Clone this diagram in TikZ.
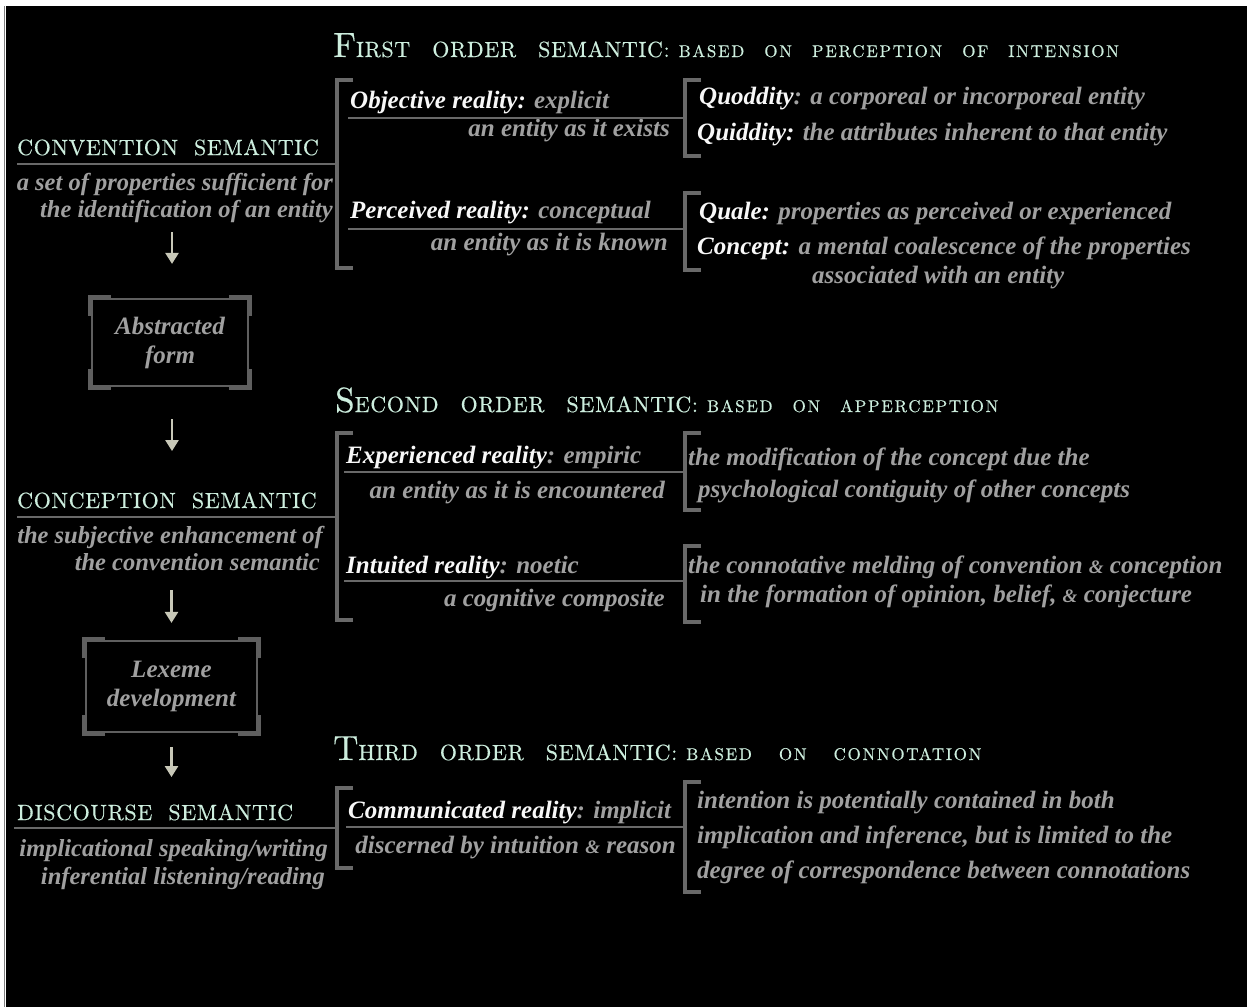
\documentclass[tikz,border=0pt]{standalone}
\usepackage{fontspec}
\setmainfont{Liberation Serif}
\newfontfamily\capsfont{lmroman10-regular.otf}[LetterSpace=3,FakeBold=0.4]
\newfontfamily\smcapsfont{lmroman10-regular.otf}[LetterSpace=10,FakeBold=0.4]
\usetikzlibrary{arrows.meta,positioning,calc}
\definecolor{mintcap}{RGB}{205,238,222}
\definecolor{greytext}{RGB}{160,160,160}
\definecolor{whitetext}{RGB}{248,248,248}
\definecolor{rulegrey}{RGB}{105,105,105}
\definecolor{boxgrey}{RGB}{95,95,95}
\definecolor{arrowtan}{RGB}{200,200,184}
\newcommand{\wgap}{\hspace{16pt}}
\newcommand{\hgap}{\hspace{22pt}}
\newcommand{\sgap}{\hspace{20pt}}
\newcommand{\hl}[1]{\textcolor{whitetext}{#1}}
\newcommand{\amp}{{\fontsize{19}{19}\selectfont\&}}
\newcommand{\ordertitle}[3]{%
  {\capsfont\fontsize{35}{35}\selectfont #1}%
  {\capsfont\fontsize{22}{22}\selectfont #2}\hspace{9pt}%
  {\smcapsfont\fontsize{17}{17}\selectfont #3}}
\tikzset{
  ordertitle/.style={anchor=base west,inner sep=0pt,text=mintcap},
  semlabel/.style={anchor=base west,inner sep=0pt,text=mintcap,
    font=\capsfont\fontsize{22}{22}\selectfont},
  desc/.style={inner sep=0pt,text=greytext,
    font=\fontsize{25}{28}\selectfont\bfseries\itshape},
  leftdesc/.style={desc,anchor=base east,
    font=\fontsize{24.5}{28}\selectfont\bfseries\itshape},
  rule/.style={draw=rulegrey,line width=1.6pt},
  brk/.style={draw=rulegrey,line width=4pt},
  flowarrow/.style={draw=arrowtan,line width=2.5pt,
    -{Triangle[width=13pt,length=11pt,fill=arrowtan]}},
  stagebox/.style={draw=boxgrey,line width=2.2pt,inner sep=0pt,align=center,
    text=greytext,font=\fontsize{25}{29}\selectfont\bfseries\itshape},
  boxcorner/.style={draw=boxgrey,line width=5pt},
}
\begin{document}
\begin{tikzpicture}[x=1pt,y=-1pt]
  \useasboundingbox (0,0) rectangle (1247,1007);
  \fill[white] (0,0) rectangle (1247,1007);
  \fill[black] (6,6) rectangle (1247,1007);
  \draw[gray,line width=1pt] (4.5,6) -- (4.5,1007);
  \coordinate (spineL) at (337,0);
  \coordinate (spineR) at (685,0);

  % order headings
  \node[ordertitle] (hdfirst) at (333,57)
    {\ordertitle{F}{IRST\hgap ORDER\hgap SEMANTIC:}{BASED\sgap ON\sgap PERCEPTION\sgap OF\sgap INTENSION}};
  \node[ordertitle] (hdsecond) at (335,412)
    {\ordertitle{S}{ECOND\hgap ORDER\hgap SEMANTIC:}{BASED\sgap ON\sgap APPERCEPTION}};
  \node[ordertitle] (hdthird) at (333,760)
    {\ordertitle{T}{HIRD\hgap ORDER\hgap SEMANTIC:}{BASED\hspace{27pt}ON\hspace{27pt}CONNOTATION}};

  % left column
  \node[semlabel] (convlbl) at (17,155) {CONVENTION\wgap SEMANTIC};
  \node[leftdesc] (convd1) at (333,190) {a set of properties sufficient for};
  \node[leftdesc] (convd2) at (333,217) {the identification of an entity};
  \node[stagebox,minimum width=156pt,minimum height=87pt] (absbox) at (170,342.5) {Abstracted\\form};
  \node[semlabel] (concplbl) at (17,508) {CONCEPTION\wgap SEMANTIC};
  \node[leftdesc] (concpd1) at (323,543) {the subjective enhancement of};
  \node[leftdesc] (concpd2) at (320,570) {the convention semantic};
  \node[stagebox,minimum width=171pt,minimum height=91pt] (lexbox) at (171.5,686.5) {Lexeme\\development};
  \node[semlabel] (disclbl) at (17,820) {DISCOURSE\wgap SEMANTIC};
  \node[leftdesc] (discd1) at (328,856) {implicational speaking/writing};
  \node[leftdesc] (discd2) at (325,884) {inferential listening/reading};

  \foreach \bx in {absbox,lexbox}
    \foreach \crn/\sx/\sy in {north west/1/1,north east/-1/1,south west/1/-1,south east/-1/-1}
      \draw[boxcorner] ([shift={(0,18*\sy)}]\bx.\crn) -- (\bx.\crn) -- ++(20*\sx,0);

  \draw[flowarrow,shorten <=15pt,shorten >=34pt] ([xshift=2pt]convd2.base -| absbox.north) -- ([xshift=2pt]absbox.north);
  \draw[flowarrow,shorten <=32pt,shorten >=41pt] ([xshift=2pt]absbox.south) -- ([xshift=2pt]absbox.south |- concplbl.north);
  \draw[flowarrow,shorten <=20pt,shorten >=17pt] (concpd2.base -| lexbox.north) -- (lexbox.north);
  \draw[flowarrow,shorten <=14pt,shorten >=27pt] (lexbox.south) -- (lexbox.south |- disclbl.north);

  \draw[rule] ([yshift=-9pt]convlbl.base west) -- ([yshift=-9pt]convlbl.base west -| spineL);
  \draw[rule] ([yshift=-9pt]concplbl.base west) -- ([yshift=-9pt]concplbl.base west -| spineL);
  \draw[rule] ([yshift=-8pt]disclbl.base west) ++(-3,0) -- ([yshift=-8pt]disclbl.base west -| spineL);

  % first level brackets
  \draw[brk] (353,80) -- (337,80) -- (337,268) -- (353,268);
  \draw[brk] (353,433) -- (337,433) -- (337,620) -- (353,620);
  \draw[brk] (353,788) -- (337,788) -- (337,868) -- (353,868);

  % middle column
  \node[desc,anchor=base west] (objA) at (350,108) {\hl{Objective reality:} explicit};
  \node[desc,anchor=base east] (objB) at (670,136) {an entity as it exists};
  \node[desc,anchor=base west] (percA) at (350,218) {\hl{Perceived reality:} conceptual};
  \node[desc,anchor=base east] (percB) at (668,250) {an entity as it is known};
  \node[desc,anchor=base west] (expA) at (346,463) {\hl{Experienced reality}: empiric};
  \node[desc,anchor=base east] (expB) at (665,498) {an entity as it is encountered};
  \node[desc,anchor=base west] (intA) at (346,573) {\hl{Intuited reality}: noetic};
  \node[desc,anchor=base east] (intB) at (665,606) {a cognitive composite};
  \node[desc,anchor=base west] (comA) at (348,818) {\hl{Communicated reality}: implicit};
  \node[desc,anchor=base east] (comB) at (676,853) {discerned by intuition \amp{} reason};

  \foreach \nd/\dy in {objA/10,percA/11,expA/9,intA/8,comA/9}
    \draw[rule] ([shift={(-2,\dy)}]\nd.base west) -- ([yshift=-\dy pt]\nd.base west -| spineR);

  % second level brackets
  \draw[brk] (701,80) -- (685,80) -- (685,156) -- (701,156);
  \draw[brk] (701,193) -- (685,193) -- (685,270) -- (701,270);
  \draw[brk] (701,433) -- (685,433) -- (685,510) -- (701,510);
  \draw[brk] (701,546) -- (685,546) -- (685,622) -- (701,622);
  \draw[brk] (701,782) -- (685,782) -- (685,892) -- (701,892);

  % right column
  \node[desc,anchor=base west] (quod) at (699,104) {\hl{Quoddity}: a corporeal or incorporeal entity};
  \node[desc,anchor=base west] (quid) at (697,140) {\hl{Quiddity:} the attributes inherent to that entity};
  \node[desc,anchor=base west] (qual) at (699,219) {\hl{Quale:} properties as perceived or experienced};
  \node[desc,anchor=base west] (concA) at (697,254) {\hl{Concept:} a mental coalescence of the properties};
  \node[desc,anchor=base west] (concB) at (812,283) {associated with an entity};
  \node[desc,anchor=base west] (modA) at (688,465) {the modification of the concept due the};
  \node[desc,anchor=base west] (modB) at (698,497) {psychological contiguity of other concepts};
  \node[desc,anchor=base west] (melA) at (688,573) {the connotative melding of convention \amp{} conception};
  \node[desc,anchor=base west] (melB) at (700,602) {in the formation of opinion, belief, \amp{} conjecture};
  \node[desc,anchor=base west] (intnA) at (697,808) {intention is potentially contained in both};
  \node[desc,anchor=base west] (intnB) at (697,843) {implication and inference, but is limited to the};
  \node[desc,anchor=base west] (intnC) at (697,878) {degree of correspondence between connotations};
\end{tikzpicture}
\end{document}
